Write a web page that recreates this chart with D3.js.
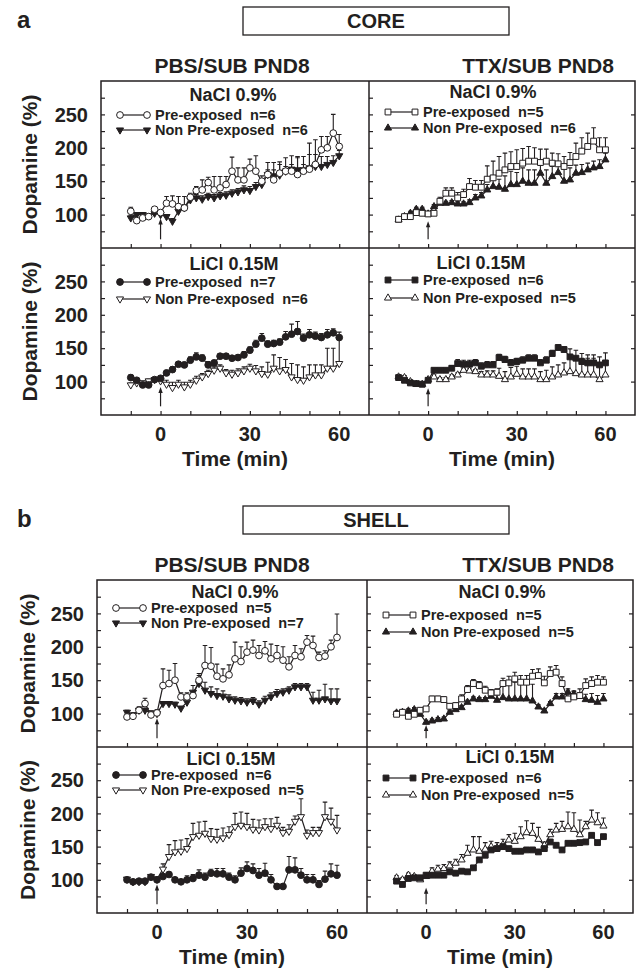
<!DOCTYPE html>
<html>
<head>
<meta charset="utf-8">
<script src="https://cdn.jsdelivr.net/npm/d3@7"></script>
<style>
  body { margin: 0; background: #fff; }
  text { font-family: "Liberation Sans", Arial, sans-serif; font-weight: bold; fill: #231f20; }
</style>
</head>
<body>
<svg id="fig" width="640" height="977"></svg>
<script>
// sample times (min), every 2 min
var times = [-10,-8,-6,-4,-2,0,2,4,6,8,10,12,14,16,18,20,22,24,26,28,30,32,34,36,38,40,42,44,46,48,50,52,54,56,58,60];
var xTicks = [-10,0,10,20,30,40,50,60];
var xTickLabels = [0,30,60];
var yTicks = [75,100,125,150,175,200,225,250,275];
var yTickLabels = [100,150,200,250];

var sectionNames = ["CORE", "SHELL"];
var sectionLetters = ["a", "b"];
var groupNames = ["PBS/SUB PND8", "TTX/SUB PND8"];
var treatNames = ["NaCl 0.9%", "LiCl 0.15M"];
// panel order: a-TL, a-TR, a-BL, a-BR, b-TL, b-TR, b-BL, b-BR
var nPre = [6,5,7,6,5,5,6,6];
var nNon = [6,6,6,5,7,5,5,5];

// CORE
var corePbsNaclPre    = [105,91,95,97,108,103,117,116,112,110,126,136,137,148,137,140,145,165,152,152,170,165,150,160,152,162,165,165,160,165,168,175,197,200,222,202];
var corePbsNaclPreErr = [6,3,3,3,3,3,10,12,15,17,6,6,15,8,20,17,12,21,18,18,13,23,8,7,15,13,7,10,25,10,39,37,20,17,28,18];
var corePbsNaclNon    = [95,100,100,98,102,100,97,90,105,110,122,125,123,127,125,128,129,132,134,137,136,142,145,160,158,159,165,168,167,167,170,172,172,175,178,188];
var corePbsNaclNonErr = [4,3,3,3,3,3,3,4,5,5,5,5,5,5,5,5,5,5,5,6,6,6,8,18,20,20,20,20,20,20,20,18,15,12,10,8];

var coreTtxNaclPre    = [93,97,97,103,102,101,102,120,132,132,125,130,142,141,141,153,155,162,167,172,172,177,180,180,178,180,177,176,172,178,187,195,202,210,197,197];
var coreTtxNaclPreErr = [3,3,3,3,3,3,4,6,8,8,8,8,12,10,10,20,25,25,25,22,25,22,22,20,20,18,15,15,15,15,20,20,20,20,18,18];
var coreTtxNaclNon    = [92,97,102,108,108,101,112,117,117,118,116,116,118,125,128,137,142,141,138,145,145,150,147,147,162,147,157,163,150,152,162,163,167,170,172,182];
var coreTtxNaclNonErr = [3,3,3,3,3,3,3,3,3,3,3,3,4,5,5,8,10,12,20,20,18,20,20,20,12,20,15,15,20,18,12,12,10,10,10,10];

var corePbsLiclPre    = [106,102,95,95,103,105,113,118,126,125,132,137,135,125,128,138,138,135,136,140,147,156,165,156,157,159,167,171,175,165,170,168,166,170,173,166];
var corePbsLiclPreErr = [4,3,3,3,3,3,3,4,4,4,5,6,5,5,4,4,4,4,4,5,5,6,7,5,5,5,8,15,15,6,8,6,6,8,6,8];
var corePbsLiclNon    = [95,98,98,101,103,101,96,91,96,92,96,102,107,112,117,120,113,111,113,116,120,116,112,111,120,116,118,107,103,102,107,110,110,120,120,127];
var corePbsLiclNonErr = [3,3,3,3,3,3,6,8,6,7,6,6,5,5,5,5,5,6,6,6,6,8,10,18,20,20,15,20,22,20,18,15,15,30,30,38];

var coreTtxLiclPre    = [106,102,98,97,96,102,117,117,117,120,127,126,126,128,123,125,125,136,133,128,130,132,135,135,128,132,142,151,148,137,135,130,128,128,125,128];
var coreTtxLiclPreErr = [3,3,3,3,3,3,3,3,3,4,6,6,6,5,5,5,5,5,5,5,5,5,5,5,5,5,5,4,4,12,12,12,12,12,12,15];
var coreTtxLiclNon    = [107,106,100,96,96,103,107,103,103,107,110,117,116,115,110,110,110,108,103,107,111,107,107,107,103,103,107,110,113,115,112,110,110,110,103,110];
var coreTtxLiclNonErr = [3,3,3,3,3,3,3,3,3,3,3,3,3,3,5,6,6,12,12,14,12,12,12,12,12,14,15,15,15,25,25,25,25,25,22,20];

// SHELL
var shellPbsNaclPre    = [95,96,105,115,98,101,142,145,150,125,125,127,150,172,171,156,152,158,182,178,192,195,187,194,182,187,180,170,187,185,207,202,184,186,200,214];
var shellPbsNaclPreErr = [5,5,5,8,5,5,25,20,25,6,6,6,10,30,28,18,15,15,25,22,15,15,15,14,22,15,20,15,15,12,10,14,8,8,10,35];
var shellPbsNaclNon    = [102,98,105,105,101,100,115,115,114,108,117,132,145,135,130,127,126,122,120,119,117,119,114,120,125,130,132,135,140,140,140,120,120,122,119,119];
var shellPbsNaclNonErr = [3,3,3,3,3,3,3,3,3,3,8,10,12,12,10,10,8,6,5,5,5,5,5,6,6,6,5,5,5,5,5,12,15,22,18,18];

var shellTtxNaclPre    = [99,102,96,99,105,107,122,122,121,111,112,122,136,145,142,135,131,132,145,146,152,147,147,156,157,146,160,162,145,122,125,127,142,145,147,147];
var shellTtxNaclPreErr = [3,3,3,3,3,3,4,4,4,4,4,6,6,6,6,6,5,5,8,10,10,10,10,10,10,10,10,10,10,8,8,10,10,10,10,8];
var shellTtxNaclNon    = [101,102,104,106,99,87,89,91,92,102,106,109,117,122,121,121,126,120,124,122,122,122,122,119,110,104,115,125,125,132,129,126,121,120,117,122];
var shellTtxNaclNonErr = [3,3,3,3,3,3,3,3,3,3,3,3,3,3,3,3,3,8,20,25,25,25,25,25,3,3,3,5,5,5,5,5,8,10,10,8];

var shellPbsLiclPre    = [100,97,98,98,104,100,105,108,100,97,100,102,107,104,110,109,109,104,100,110,117,114,107,110,100,90,90,115,115,107,100,100,93,101,109,107];
var shellPbsLiclPreErr = [2,2,2,2,2,2,3,3,3,3,6,6,8,6,6,8,8,6,6,8,10,10,10,15,8,3,3,20,18,10,8,8,6,12,15,15];
var shellPbsLiclNon    = [101,97,97,97,105,101,116,135,142,143,147,165,167,170,162,161,163,168,180,182,180,176,175,180,177,182,171,173,188,195,167,171,171,195,188,175];
var shellPbsLiclNonErr = [2,2,2,2,3,3,8,18,17,17,15,20,20,18,15,15,15,12,20,20,20,15,15,12,15,12,8,10,8,27,8,8,8,22,20,22];

var shellTtxLiclPre    = [98,93,102,103,103,107,107,107,107,112,110,113,112,118,130,137,145,147,150,147,143,143,145,145,142,147,157,152,145,155,155,156,157,167,156,165];
var shellTtxLiclPreErr = [3,3,3,3,3,3,3,3,3,3,3,3,3,3,3,3,3,3,3,3,3,3,3,3,3,3,3,3,3,3,3,3,3,3,3,3];
var shellTtxLiclNon    = [103,100,107,105,100,105,113,116,117,121,125,130,140,145,143,146,150,148,153,160,158,165,171,170,161,152,168,175,176,180,176,168,180,190,186,181];
var shellTtxLiclNonErr = [3,3,3,3,3,3,5,6,6,6,6,8,12,20,22,10,8,8,8,8,12,15,18,15,18,5,8,10,12,22,25,22,8,15,15,12];

// arrow head value (injection at t=0) per panel
var arrowTop = [94,90,92,90,93,83,93,88];

var svg = d3.select("#fig");
var ink = "#231f20";

// section geometry
var sections = [
  { x0: 101, xm: 369, x1: 635, y0: 81,  ym: 248, y1: 415, boxY: 7,   letterY: 28,  colY: 73,  ylabX: 37 },
  { x0: 97,  xm: 367, x1: 633, y0: 580, ym: 747, y1: 913, boxY: 506, letterY: 527, colY: 572, ylabX: 35 }
];
var colCenters = [232, 538];

// per panel text offsets: title dx from panel centre, title dy, legend dys
var panelText = [
  { tdx: -2,  tdy: 20, l1: 39, l2: 54 },
  { tdx: -9,  tdy: 17, l1: 36, l2: 52 },
  { tdx: -1,  tdy: 22, l1: 39, l2: 56 },
  { tdx: -21, tdy: 21, l1: 37, l2: 55 },
  { tdx: 3,   tdy: 18, l1: 33, l2: 48 },
  { tdx: 2,   tdy: 18, l1: 40, l2: 57 },
  { tdx: -1,  tdy: 18, l1: 33, l2: 48 },
  { tdx: 10,  tdy: 16, l1: 36, l2: 53 }
];

var panelSeries = [
  [corePbsNaclPre, corePbsNaclPreErr, corePbsNaclNon, corePbsNaclNonErr],
  [coreTtxNaclPre, coreTtxNaclPreErr, coreTtxNaclNon, coreTtxNaclNonErr],
  [corePbsLiclPre, corePbsLiclPreErr, corePbsLiclNon, corePbsLiclNonErr],
  [coreTtxLiclPre, coreTtxLiclPreErr, coreTtxLiclNon, coreTtxLiclNonErr],
  [shellPbsNaclPre, shellPbsNaclPreErr, shellPbsNaclNon, shellPbsNaclNonErr],
  [shellTtxNaclPre, shellTtxNaclPreErr, shellTtxNaclNon, shellTtxNaclNonErr],
  [shellPbsLiclPre, shellPbsLiclPreErr, shellPbsLiclNon, shellPbsLiclNonErr],
  [shellTtxLiclPre, shellTtxLiclPreErr, shellTtxLiclNon, shellTtxLiclNonErr]
];

// marker styles: [pre kind, pre fill, non kind, non fill] by panel position
var markerKinds = [
  ["circle", "open", "triDown", "filled"],
  ["square", "open", "triUp", "filled"],
  ["circle", "filled", "triDown", "open"],
  ["square", "filled", "triUp", "open"]
];

function symbolPath(kind) {
  if (kind == "circle") return d3.symbol(d3.symbolCircle, 36)();
  if (kind == "square") return d3.symbol(d3.symbolSquare, 34)();
  return d3.symbol(d3.symbolTriangle, 22)();
}

function drawMarkers(g, pts, kind, fill) {
  g.selectAll(null)
    .data(pts)
    .enter()
    .append("path")
    .attr("d", symbolPath(kind))
    .attr("transform", function(d) {
      return "translate(" + d[0] + "," + d[1] + ")" + (kind == "triDown" ? " rotate(180)" : "");
    })
    .attr("fill", fill == "open" ? "#fff" : ink)
    .attr("stroke", ink)
    .attr("stroke-width", 1);
}

sections.forEach(function(s, si) {
  // section letter and boxed title
  svg.append("text").attr("x", 17).attr("y", s.letterY)
    .attr("font-size", "24px").text(sectionLetters[si]);
  svg.append("rect").attr("x", 243).attr("y", s.boxY).attr("width", 266).attr("height", 28)
    .attr("fill", "none").attr("stroke", ink).attr("stroke-width", 1.3);
  svg.append("text").attr("x", 376).attr("y", s.boxY + 21)
    .attr("text-anchor", "middle").attr("font-size", "20px").text(sectionNames[si]);

  groupNames.forEach(function(gn, ci) {
    svg.append("text").attr("x", colCenters[ci]).attr("y", s.colY)
      .attr("text-anchor", "middle").attr("font-size", "21px").text(gn);
  });

  for (var row = 0; row < 2; row++) {
    for (var col = 0; col < 2; col++) {
      var pi = si * 4 + row * 2 + col;
      var left = col == 0 ? s.x0 : s.xm;
      var right = col == 0 ? s.xm : s.x1;
      var top = row == 0 ? s.y0 : s.ym;
      var bottom = row == 0 ? s.ym : s.y1;

      var x = d3.scaleLinear().domain([-20, 70]).range([left, right]);
      var y = d3.scaleLinear().domain([50, 300]).range([bottom, top]);
      var g = svg.append("g");

      // ticks inside the frame
      var xAx = g.append("g").attr("transform", "translate(0," + bottom + ")")
        .call(d3.axisTop(x).tickValues(xTicks).tickSize(4).tickFormat(""));
      xAx.select(".domain").remove();
      var yAx = g.append("g").attr("transform", "translate(" + left + ",0)")
        .call(d3.axisRight(y).tickValues(yTicks).tickSize(4).tickFormat(""));
      yAx.select(".domain").remove();
      if (col == 1) {
        var yAx2 = g.append("g").attr("transform", "translate(" + right + ",0)")
          .call(d3.axisLeft(y).tickValues(yTickLabels).tickSize(4).tickFormat(""));
        yAx2.select(".domain").remove();
      }
      g.selectAll(".tick line").attr("stroke", ink).attr("stroke-width", 1.2);

      // y tick labels and axis title on left panels
      if (col == 0) {
        g.selectAll(null).data(yTickLabels).enter().append("text")
          .attr("x", left - 13).attr("y", function(d) { return y(d); })
          .attr("dy", "0.36em").attr("text-anchor", "end").attr("font-size", "20px")
          .text(function(d) { return d; });
        g.append("text")
          .attr("transform", "translate(" + s.ylabX + "," + ((top + bottom) / 2) + ") rotate(-90)")
          .attr("text-anchor", "middle").attr("font-size", "21px").text("Dopamine (%)");
      }
      // x tick labels on bottom row
      if (row == 1) {
        g.selectAll(null).data(xTickLabels).enter().append("text")
          .attr("x", function(d) { return x(d); }).attr("y", bottom + 26)
          .attr("text-anchor", "middle").attr("font-size", "20px")
          .text(function(d) { return d; });
        g.append("text").attr("x", (left + right) / 2).attr("y", bottom + 51)
          .attr("text-anchor", "middle").attr("font-size", "21px").text("Time (min)");
      }

      // injection arrow
      g.append("line").attr("x1", x(0)).attr("x2", x(0))
        .attr("y1", y(63)).attr("y2", y(arrowTop[pi]) + 3)
        .attr("stroke", ink).attr("stroke-width", 1.2);
      g.append("path")
        .attr("d", "M" + x(0) + "," + y(arrowTop[pi]) + " l-2.2,6 l4.4,0 z")
        .attr("fill", ink);

      // series
      var ser = panelSeries[pi];
      var mk = markerKinds[row * 2 + col];
      var line = d3.line().x(function(d) { return x(d[0]); }).y(function(d) { return y(d[1]); });
      [[ser[2], ser[3], mk[2], mk[3]], [ser[0], ser[1], mk[0], mk[1]]].forEach(function(sp) {
        var pts = times.map(function(t, i) { return [t, sp[0][i], sp[1][i]]; });
        // error bars (upward)
        g.selectAll(null).data(pts).enter().append("path")
          .attr("d", function(d) {
            var xx = x(d[0]), y0 = y(d[1]), y1 = y(d[1] + d[2]);
            return "M" + xx + "," + y0 + "V" + y1 + "M" + (xx - 2.3) + "," + y1 + "H" + (xx + 2.3);
          })
          .attr("stroke", ink).attr("stroke-width", 1.1).attr("fill", "none");
        g.append("path").datum(pts).attr("d", line)
          .attr("fill", "none").attr("stroke", ink).attr("stroke-width", 1.2);
        drawMarkers(g, pts.map(function(d) { return [x(d[0]), y(d[1])]; }), sp[2], sp[3]);
      });

      // panel title and legend
      var pt = panelText[pi];
      g.append("text").attr("x", (left + right) / 2 + pt.tdx).attr("y", top + pt.tdy)
        .attr("text-anchor", "middle").attr("font-size", "18px").text(treatNames[row]);
      var legRows = [
        [pt.l1, mk[0], mk[1], "Pre-exposed  n=" + nPre[pi]],
        [pt.l2, mk[2], mk[3], "Non Pre-exposed  n=" + nNon[pi]]
      ];
      legRows.forEach(function(lr) {
        var ly = top + lr[0] - 5;
        g.append("line").attr("x1", left + 19).attr("x2", left + 46)
          .attr("y1", ly).attr("y2", ly).attr("stroke", ink).attr("stroke-width", 1.2);
        drawMarkers(g, [[left + 19, ly], [left + 46, ly]], lr[1], lr[2]);
        g.append("text").attr("x", left + 54).attr("y", top + lr[0])
          .attr("font-size", "14.5px").style("white-space", "pre").text(lr[3]);
      });
    }
  }

  // frame
  svg.append("rect").attr("x", s.x0).attr("y", s.y0)
    .attr("width", s.x1 - s.x0).attr("height", s.y1 - s.y0)
    .attr("fill", "none").attr("stroke", ink).attr("stroke-width", 1.5);
  svg.append("line").attr("x1", s.xm).attr("x2", s.xm).attr("y1", s.y0).attr("y2", s.y1)
    .attr("stroke", ink).attr("stroke-width", 1.5);
  svg.append("line").attr("x1", s.x0).attr("x2", s.x1).attr("y1", s.ym).attr("y2", s.ym)
    .attr("stroke", ink).attr("stroke-width", 1.5);
});
</script>
</body>
</html>
